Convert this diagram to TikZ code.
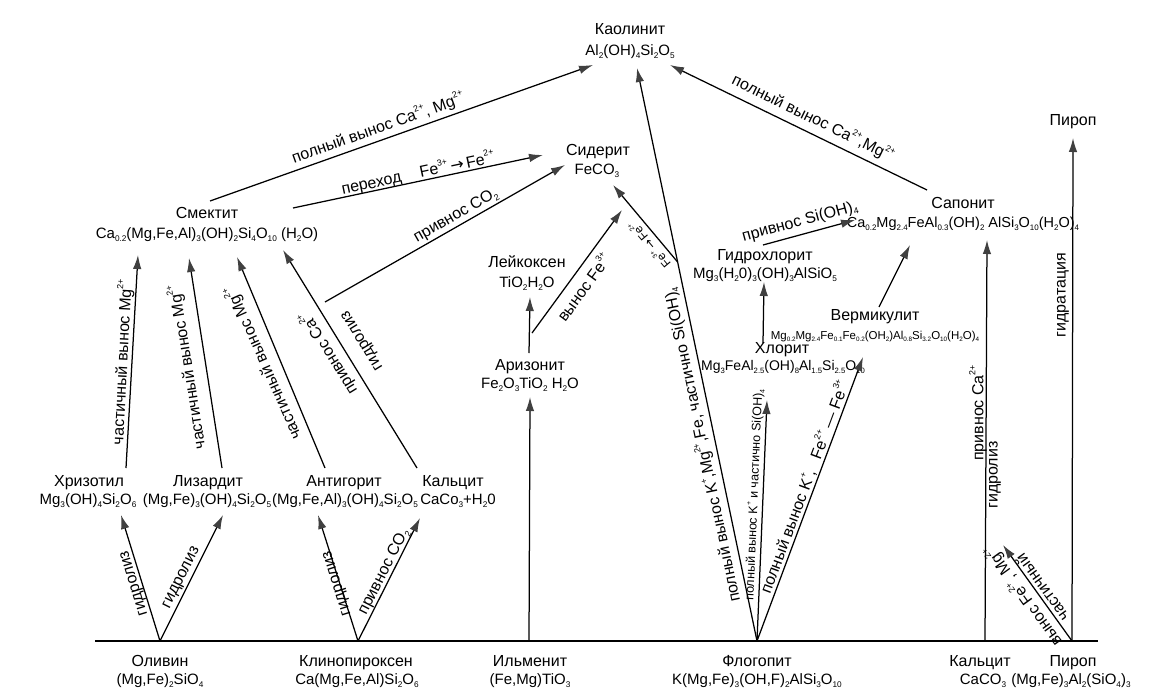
\documentclass[tikz,border=0pt]{standalone}
\usepackage{fontspec}
\setmainfont{Liberation Sans}
\newfontfamily\djv{DejaVu Sans}
\usetikzlibrary{arrows.meta}
\newcommand{\xs}[1]{\raisebox{-0.4ex}{\scalebox{0.55}{#1}}}
\newcommand{\xp}[1]{\raisebox{0.95ex}{\scalebox{0.55}{#1}}}
\newcommand{\rar}{{\djv →}}
\begin{document}
\begin{tikzpicture}[x=1pt,y=-1pt,
  every node/.style={inner sep=0pt,font=\fontsize{16}{19}\selectfont},
  nm/.style={anchor=base},
  fm/.style={anchor=base,font=\fontsize{15}{18}\selectfont},
  lab/.style={font=\fontsize{16}{19}\selectfont},
  sml/.style={font=\fontsize{12.5}{14}\selectfont},
  tiny/.style={font=\fontsize{12}{14}\selectfont},
  arr/.style={line width=1.25pt,-{Latex[length=14pt,width=8.5pt,color=black!75]}},
  baseln/.style={line width=1.5pt}]
\fill[white] (0,0) rectangle (1149,699);
\useasboundingbox (0,0) rectangle (1149,699);

% ---------- mineral nodes ----------
\node[nm] (kaoN) at (630,34.5) {Каолинит};
\node[fm] (kaoF) at (630,55.5) {Al\xs{2}(OH)\xs{4}Si\xs{2}O\xs{5}};
\node[nm] (sidN) at (598,155.5) {Сидерит};
\node[fm] (sidF) at (597,174.5) {FeCO\xs{3}};
\node[nm] (smeN) at (207,218.5) {Смектит};
\node[fm] (smeF) at (207,238.5) {Ca\xs{0.2}(Mg,Fe,Al)\xs{3}(OH)\xs{2}Si\xs{4}O\xs{10} (H\xs{2}O)};
\node[nm] (lekN) at (527,267.5) {Лейкоксен};
\node[fm] (lekF) at (527,287.5) {TiO\xs{2}H\xs{2}O};
\node[nm] (ariN) at (530,370.5) {Аризонит};
\node[fm] (ariF) at (530,388.5) {Fe\xs{2}O\xs{3}TiO\xs{2} H\xs{2}O};
\node[nm] (ghlN) at (765,260.5) {Гидрохлорит};
\node[fm] (ghlF) at (765,278.5) {Mg\xs{3}(H\xs{2}0)\xs{3}(OH)\xs{3}AlSiO\xs{5}};
\node[nm] (sapN) at (963,208.5) {Сапонит};
\node[fm] (sapF) at (963,227.5) {\fontsize{14.5}{16}\selectfont Ca\xs{0.2}Mg\xs{2.4}FeAl\xs{0.3}(OH)\xs{2} AlSi\xs{3}O\xs{10}(H\xs{2}O)\xs{4}};
\node[nm] (pirT) at (1073,125.5) {Пироп};
\node[nm] (verN) at (875,320.5) {Вермикулит};
\node[fm] (verF) at (875,339) {\fontsize{11.5}{13}\selectfont Mg\xs{0.2}Mg\xs{2.4}Fe\xs{0.1}Fe\xs{0.2}(OH\xs{2})Al\xs{0.8}Si\xs{3.2}O\xs{10}(H\xs{2}O)\xs{4}};
\node[nm] (hloN) at (782,353.5) {Хлорит};
\node[fm] (hloF) at (783,370.5) {\fontsize{14}{16}\selectfont Mg\xs{3}FeAl\xs{2.5}(OH)\xs{8}Al\xs{1.5}Si\xs{2.5}O\xs{10}};
\node[nm] (hriN) at (89,486) {Хризотил};
\node[fm] (hriF) at (88,504) {Mg\xs{3}(OH)\xs{4}Si\xs{2}O\xs{6}};
\node[nm] (lizN) at (208,486) {Лизардит};
\node[fm] (lizF) at (207,504) {(Mg,Fe)\xs{3}(OH)\xs{4}Si\xs{2}O\xs{5}};
\node[nm] (antN) at (344,486) {Антигорит};
\node[fm] (antF) at (345,504) {(Mg,Fe,Al)\xs{3}(OH)\xs{4}Si\xs{2}O\xs{5}};
\node[nm] (kcuN) at (453,486) {Кальцит};
\node[fm] (kcuF) at (458,504) {CaCo\xs{3}+H\xs{2}0};
\node[nm] (olvN) at (160,666) {Оливин};
\node[fm] (olvF) at (160,684) {(Mg,Fe)\xs{2}SiO\xs{4}};
\node[nm] (klnN) at (356,666) {Клинопироксен};
\node[fm] (klnF) at (357,684) {Ca(Mg,Fe,Al)Si\xs{2}O\xs{6}};
\node[nm] (ilmN) at (530,666) {Ильменит};
\node[fm] (ilmF) at (530,684) {(Fe,Mg)TiO\xs{3}};
\node[nm] (flgN) at (757,666) {Флогопит};
\node[fm] (flgF) at (757,684) {K(Mg,Fe)\xs{3}(OH,F)\xs{2}AlSi\xs{3}O\xs{10}};
\node[nm] (kcbN) at (980,666) {Кальцит};
\node[fm] (kcbF) at (983,684) {CaCO\xs{3}};
\node[nm] (pirN) at (1073,666) {Пироп};
\node[fm] (pirF) at (1071,684) {(Mg,Fe)\xs{3}Al\xs{2}(SiO\xs{4})\xs{3}};

% ---------- connector points ----------
\coordinate (b0) at (95,641); \coordinate (b1) at (1098,641);
\coordinate (ol) at (160,641); \coordinate (kl) at (358,641);
\coordinate (il) at (529,641); \coordinate (fl) at (757,641);
\coordinate (ca) at (985,641); \coordinate (py) at (1072,641);
\coordinate (hrB) at (121,515); \coordinate (lzB) at (223,515);
\coordinate (anB) at (318,515); \coordinate (kcB) at (420,518);
\coordinate (arB) at (530,397); \coordinate (hlB) at (767,400);
\coordinate (vmB) at (863,357); \coordinate (spD) at (987,240);
\coordinate (pyT) at (1073,138); \coordinate (pyE) at (1003,545);
\coordinate (hrT) at (126,468); \coordinate (sm1) at (138,255);
\coordinate (lzT) at (222,468); \coordinate (sm2) at (189,258);
\coordinate (anT) at (325,468); \coordinate (sm3) at (237,257);
\coordinate (kcT) at (417,468); \coordinate (sm4) at (283,250);
\coordinate (smA) at (210,201); \coordinate (kaA) at (593,65);
\coordinate (smB) at (293,208); \coordinate (sdA) at (543,155);
\coordinate (brC) at (325,302); \coordinate (sdB) at (565,165);
\coordinate (arT) at (529,353); \coordinate (lkB) at (530,297);
\coordinate (brF) at (532,333); \coordinate (sdD) at (622,210);
\coordinate (kaB) at (637,68);
\coordinate (brV) at (677.6,262); \coordinate (sdC) at (613,185);
\coordinate (hlT) at (763,343); \coordinate (ghB) at (764,282);
\coordinate (ghT) at (763,245); \coordinate (spA) at (855,220);
\coordinate (vmT) at (879,307); \coordinate (spC) at (910,245);
\coordinate (spT) at (927,190); \coordinate (kaC) at (670,65);

% ---------- connectors ----------
\draw[baseln] (b0) -- (b1);
\draw[arr] (ol) -- (hrB);
\draw[arr] (ol) -- (lzB);
\draw[arr] (kl) -- (anB);
\draw[arr] (kl) -- (kcB);
\draw[arr] (il) -- (arB);
\draw[arr] (fl) -- (kaB);
\draw[arr] (fl) -- (hlB);
\draw[arr] (fl) -- (vmB);
\draw[arr] (ca) -- (spD);
\draw[arr] (py) -- (pyT);
\draw[arr] (py) -- (pyE);
\draw[arr] (hrT) -- (sm1);
\draw[arr] (lzT) -- (sm2);
\draw[arr] (anT) -- (sm3);
\draw[arr] (kcT) -- (sm4);
\draw[arr] (smA) -- (kaA);
\draw[arr] (smB) -- (sdA);
\draw[arr] (brC) -- (sdB);
\draw[arr] (arT) -- (lkB);
\draw[arr] (brF) -- (sdD);
\draw[arr] (brV) -- (sdC);
\draw[arr] (hlT) -- (ghB);
\draw[arr] (ghT) -- (spA);
\draw[arr] (vmT) -- (spC);
\draw[arr] (spT) -- (kaC);

% ---------- connector labels ----------
\node[lab,rotate=19.6] (l1) at (378,128) {полный вынос Ca\xp{2+}, Mg\xp{2+}};
\node[lab,rotate=12] (l2) at (418,173) {переход\hspace{1.2em}Fe\xp{3+}\,\rar\,Fe\xp{2+}};
\node[lab,rotate=29.7] (l3) at (456,216) {привнос CO\xs{2}};
\node[lab,rotate=87] (l4) at (122,362) {частичный вынос Mg\xp{2+}};
\node[lab,rotate=99] (l5) at (187,367) {частичный вынос Mg\xp{2+}};
\node[lab,rotate=114] (l6) at (263,363) {частичный вынос Mg\xp{2+}};
\node[lab,rotate=121.6] (l7) at (328,353) {привнос Ca\xp{2+}};
\node[lab,rotate=121.6] (l8) at (363,340) {гидролиз};
\node[lab,rotate=107] (l9) at (135,583) {гидролиз};
\node[lab,rotate=63.4] (l10) at (182,578) {гидролиз};
\node[lab,rotate=107.6] (l11) at (338,583) {гидролиз};
\node[lab,rotate=63] (l12) at (384,572) {привнос CO\xs{2}};
\node[lab,rotate=53.8] (l13) at (583,287) {вынос Fe\xp{3+}};
\node[tiny,rotate=130] (l14) at (649,245) {Fe\xp{3+}\,\rar\,Fe\xp{2+}};
\node[lab,rotate=101.8] (l15) at (702,445) {полный вынос K\xp{+},Mg\xp{2+},Fe, частично Si(OH)\xs{4}};
\node[sml,rotate=87.6] (l16) at (754,495) {полный вынос K\xp{+} и частично Si(OH)\xs{4}};
\node[lab,rotate=69.5] (l17) at (804,487) {полный вынос K\xp{+},\hspace{0.8em}Fe\xp{2+} — Fe\xp{3+}};
\node[lab,rotate=15.2] (l18) at (800,222) {привнос Si(OH)\xs{4}};
\node[lab,rotate=-26] (l19) at (813,118) {полный вынос Ca\xp{2+},Mg\xp{2+}};
\node[lab,rotate=90] (l20) at (978,413) {привнос Ca\xp{2+}};
\node[lab,rotate=90] (l21) at (995,475) {гидролиз};
\node[lab,rotate=90] (l22) at (1063,295) {гидратация};
\node[lab,rotate=125.7] (l23) at (1042,588) {частичный};
\node[lab,rotate=125.7] (l24) at (1023,596) {вынос Fe\xp{2+}, Mg\xp{2+}};
\end{tikzpicture}
\end{document}
